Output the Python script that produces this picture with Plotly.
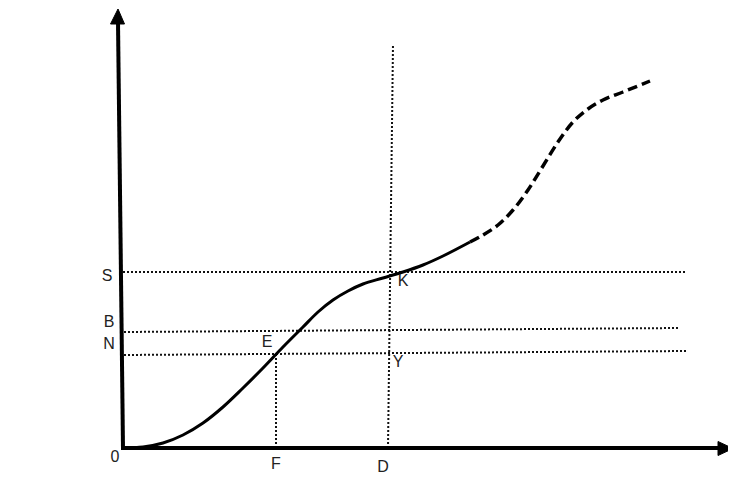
import plotly.graph_objects as go

# Diagram units: origin at the axes' corner
curve_solid_x = [0, 20, 40, 60, 80, 100, 120, 140, 160, 180, 195, 210, 225, 240, 260, 280, 300, 320, 347]
curve_solid_y = [0, 1, 5, 13, 25, 41, 60, 80, 101, 121, 136, 148, 157, 164, 170, 176, 183, 192, 206]
curve_dash_x = [347, 360, 375, 390, 405, 420, 435, 450, 465, 480, 500, 527]
curve_dash_y = [206, 213, 223, 238, 258, 282, 306, 326, 339, 348, 356, 367]

# Guide lines (start/end points)
guide_S = ([0, 562], [176, 176])
guide_B = ([1, 557], [116, 120])
guide_N = ([1, 563], [93, 97])
guide_F = ([153, 153], [0, 95])
guide_D = ([265, 270], [0, 404])

# Axes
y_axis_line = ([0, -5], [0, 426])
y_axis_head = ([-12.5, 1.5, -5, -12.5], [424, 424, 439, 424])
x_axis_line = ([-2, 597], [0, 0])
x_axis_head = ([595, 595, 610, 595], [6.5, -7.5, -0.5, 6.5])

label_text = ["S", "B", "N", "0", "F", "D", "E", "Y", "K"]
label_x = [-16, -14, -14, -8, 153, 260, 144, 275, 280]
label_y = [171, 125, 103, -10, -17, -20, 105, 85, 166]

fig = go.Figure()

dot = dict(color="#111", width=2, dash="2px,2px")
for gx, gy in [guide_S, guide_B, guide_N, guide_F, guide_D]:
    fig.add_trace(go.Scatter(x=gx, y=gy, mode="lines", line=dot, hoverinfo="skip"))

fig.add_trace(go.Scatter(x=curve_solid_x, y=curve_solid_y, mode="lines",
                         line=dict(color="black", width=3, shape="spline", smoothing=1)))
fig.add_trace(go.Scatter(x=curve_dash_x, y=curve_dash_y, mode="lines",
                         line=dict(color="black", width=3.5, shape="spline", smoothing=1, dash="10px,5px")))

fig.add_trace(go.Scatter(x=y_axis_line[0], y=y_axis_line[1], mode="lines", line=dict(color="black", width=4)))
fig.add_trace(go.Scatter(x=x_axis_line[0], y=x_axis_line[1], mode="lines", line=dict(color="black", width=4)))
fig.add_trace(go.Scatter(x=y_axis_head[0], y=y_axis_head[1], mode="lines", fill="toself",
                         fillcolor="black", line=dict(color="black", width=1)))
fig.add_trace(go.Scatter(x=x_axis_head[0], y=x_axis_head[1], mode="lines", fill="toself",
                         fillcolor="black", line=dict(color="black", width=1)))

fig.add_trace(go.Scatter(x=label_x, y=label_y, mode="text", text=label_text,
                         textfont=dict(family="Liberation Sans, Arial", size=16, color="#222")))

fig.update_layout(
    width=736, height=484,
    margin=dict(l=0, r=0, t=0, b=0),
    paper_bgcolor="white", plot_bgcolor="white",
    showlegend=False,
    xaxis=dict(range=[-115, 621], visible=False, fixedrange=True),
    yaxis=dict(range=[-44, 440], visible=False, fixedrange=True),
)

fig.write_html("out.html", config={"displayModeBar": False})
